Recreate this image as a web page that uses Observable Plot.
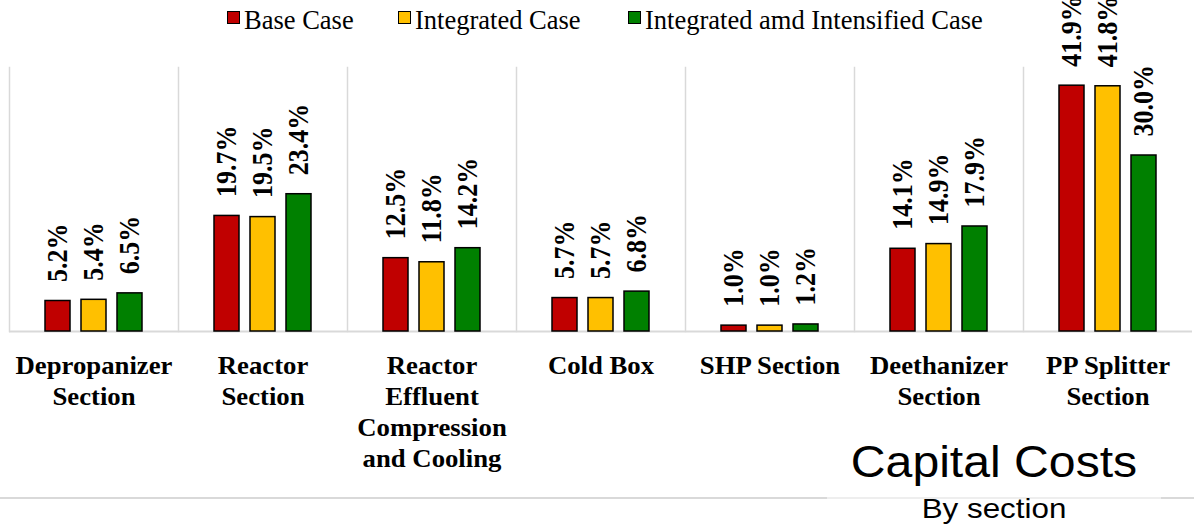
<!DOCTYPE html>
<html>
<head>
<meta charset="utf-8">
<script src="https://cdn.jsdelivr.net/npm/d3@7"></script>
<script src="https://cdn.jsdelivr.net/npm/@observablehq/plot@0.6"></script>
<style>
  html, body { margin: 0; padding: 0; background: #fff; }
  #wrap { position: relative; width: 1194px; height: 524px; overflow: hidden; }
  #chart { position: absolute; left: 0; top: 0; }
  .legend-item { position: absolute; top: 0; display: flex; align-items: flex-start; white-space: nowrap;
    font-family: "Liberation Serif", serif; font-size: 26.5px; line-height: 26px; color: #000; }
  .legend-item .swatch { width: 11px; height: 11px; border: 1.5px solid #000; margin-top: 11px; margin-right: 4px; }
  .legend-item .label { margin-top: 7px; }
  #rule { position: absolute; left: 0; top: 497px; width: 1194px; height: 2px; background: #d9d9d9; }
  #titlebox { position: absolute; left: 827px; top: 432px; width: 334px; height: 92px; background: rgba(255,255,255,0.55); }
  .title { position: absolute; left: 994px; white-space: nowrap; font-family: "Liberation Sans", Arial, sans-serif;
    color: #000; line-height: 1; transform-origin: center; }
  #title { top: 439px; font-size: 45px; transform: translateX(-50%) scaleX(1.07); }
  #subtitle { top: 495px; font-size: 28px; transform: translateX(-50%) scaleX(1.12); }
</style>
</head>
<body>
<div id="wrap">
  <div id="rule"></div>
  <div id="chart"></div>
  <div id="legend"></div>
  <div id="titlebox"></div>
  <div class="title" id="title">Capital Costs</div>
  <div class="title" id="subtitle">By section</div>
</div>
<script>
// Plant sections (line breaks as shown under each group)
const categories = [
  "Depropanizer\nSection",
  "Reactor\nSection",
  "Reactor\nEffluent\nCompression\nand Cooling",
  "Cold Box",
  "SHP Section",
  "Deethanizer\nSection",
  "PP Splitter\nSection"
];

// Cases compared in each section
const seriesNames = ["Base Case", "Integrated Case", "Integrated amd Intensified Case"];
const seriesColors = ["#C00000", "#FFC000", "#008000"];

// Share of capital cost per section (%)
const baseCase        = [5.2, 19.7, 12.5, 5.7, 1.0, 14.1, 41.9];
const integratedCase  = [5.4, 19.5, 11.8, 5.7, 1.0, 14.9, 41.8];
const intensifiedCase = [6.5, 23.4, 14.2, 6.8, 1.2, 17.9, 30.0];

const seriesValues = [baseCase, integratedCase, intensifiedCase];
const rows = categories.flatMap((category, i) =>
  seriesValues.map((values, j) => ({category, series: seriesNames[j], value: values[i]}))
);

const serif = "'Liberation Serif', 'Times New Roman', serif";

const chart = Plot.plot({
  width: 1194,
  height: 524,
  marginTop: 67,
  marginBottom: 193,
  marginLeft: 7,
  marginRight: 0,
  style: {fontFamily: serif, background: "transparent", color: "#000"},
  fx: {domain: categories, padding: 0, label: null},
  x: {domain: seriesNames, paddingInner: 0.315, paddingOuter: 0.98, axis: null},
  y: {domain: [0, 45], axis: null},
  color: {domain: seriesNames, range: seriesColors},
  marks: [
    Plot.frame({anchor: "left", stroke: "#d9d9d9", strokeWidth: 1.5}),
    Plot.ruleY([0], {stroke: "#d9d9d9", strokeWidth: 2}),
    Plot.barY(rows, {fx: "category", x: "series", y: "value", fill: "series", stroke: "#000", strokeWidth: 1.5}),
    Plot.text(rows, {
      fx: "category", x: "series", y: "value",
      text: d => d.value.toFixed(1) + "%",
      rotate: -90, textAnchor: "start", lineAnchor: "middle", dy: -19,
      fontFamily: serif, fontSize: 26, fontWeight: "bold", fill: "#000"
    }),
    Plot.axisFx({anchor: "bottom", tickSize: 0, tickPadding: 20, fontFamily: serif, fontSize: 25, fontWeight: "bold",
      lineHeight: 1.24, label: null, fill: "#000"})
  ]
});
document.getElementById("chart").appendChild(chart);

// Slightly widen the glyphs of the serif labels
chart.querySelectorAll('[aria-label="fx-axis tick label"] text').forEach(t => {
  t.setAttribute("transform", (t.getAttribute("transform") || "") + " scale(1.07,1)");
});
chart.querySelectorAll('[aria-label="text"] text').forEach(t => {
  t.setAttribute("transform", (t.getAttribute("transform") || "") + " scale(1,1.1)");
});

// Legend row
const legendLeft = [227, 398, 628];
const legend = document.getElementById("legend");
seriesNames.forEach((name, i) => {
  const item = document.createElement("div");
  item.className = "legend-item";
  item.style.left = legendLeft[i] + "px";
  const sw = document.createElement("div");
  sw.className = "swatch";
  sw.style.background = seriesColors[i];
  const lb = document.createElement("div");
  lb.className = "label";
  lb.textContent = name;
  item.append(sw, lb);
  legend.appendChild(item);
});
</script>
</body>
</html>
